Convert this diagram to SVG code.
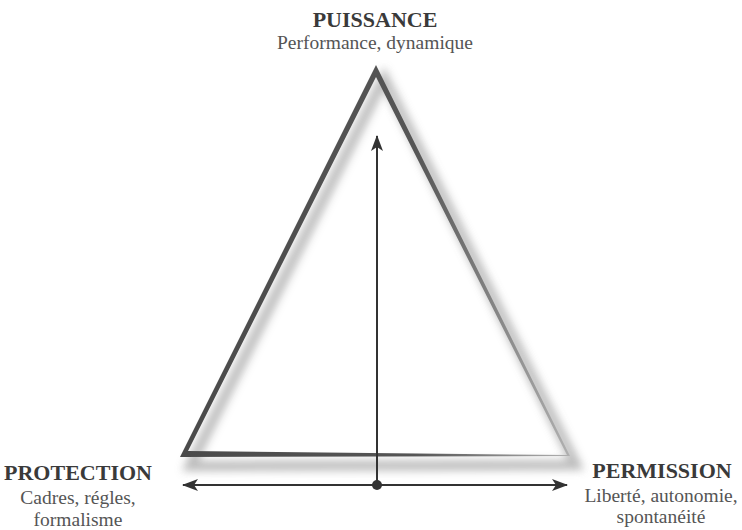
<svg xmlns="http://www.w3.org/2000/svg" width="742" height="530" viewBox="0 0 742 530">
<style>
.t{font-family:"Liberation Serif","Times New Roman",serif;font-weight:bold;font-size:22px;fill:#3a3a3a;text-anchor:middle}
.s{font-family:"Liberation Serif","Times New Roman",serif;font-size:19.5px;fill:#555;text-anchor:middle}
.ln{stroke:#333;stroke-width:2;fill:none}
</style>
<defs>
<filter id="blur" x="-10%" y="-10%" width="120%" height="120%"><feGaussianBlur stdDeviation="4"/></filter>
<linearGradient id="tg" gradientUnits="userSpaceOnUse" x1="180" y1="0" x2="570" y2="0">
<stop offset="0" stop-color="#4a4a4a"/><stop offset="0.6" stop-color="#555"/><stop offset="1" stop-color="#b0b0b0"/>
</linearGradient>
<marker id="ah" viewBox="0 0 16 12" refX="15" refY="6" markerWidth="16" markerHeight="12" markerUnits="userSpaceOnUse" orient="auto">
<path d="M0,0 L16,6 L0,12 L4,6 Z" fill="#333"/>
</marker>
</defs>
<rect width="742" height="530" fill="#fff"/>
<g id="triangle">
<path d="M384,78 L190,466 L576,465 Z" fill="none" stroke="#b0b0b0" stroke-width="10" stroke-linejoin="miter" filter="url(#blur)" opacity="0.85"/>
<path fill-rule="evenodd" fill="url(#tg)" d="M376,65 L180,457 L570,456 Z M376,77 L188,451 L567,455 Z"/>
</g>
<g id="connectors">
<line class="ln" x1="377" y1="485" x2="377" y2="136" marker-end="url(#ah)"/>
<line class="ln" x1="377" y1="485" x2="183" y2="485" marker-end="url(#ah)"/>
<line class="ln" x1="377" y1="485" x2="567" y2="485" marker-end="url(#ah)"/>
<circle cx="377" cy="485" r="5" fill="#333"/>
</g>
<g id="puissance">
<text class="t" x="375" y="27">PUISSANCE</text>
<text class="s" x="375" y="49">Performance, dynamique</text>
</g>
<g id="protection">
<text class="t" x="78" y="480">PROTECTION</text>
<text class="s" x="78" y="504">Cadres, régles,</text>
<text class="s" x="78" y="526">formalisme</text>
</g>
<g id="permission">
<text class="t" x="662" y="478">PERMISSION</text>
<text class="s" x="661" y="502">Liberté, autonomie,</text>
<text class="s" x="661" y="523">spontanéité</text>
</g>
</svg>
